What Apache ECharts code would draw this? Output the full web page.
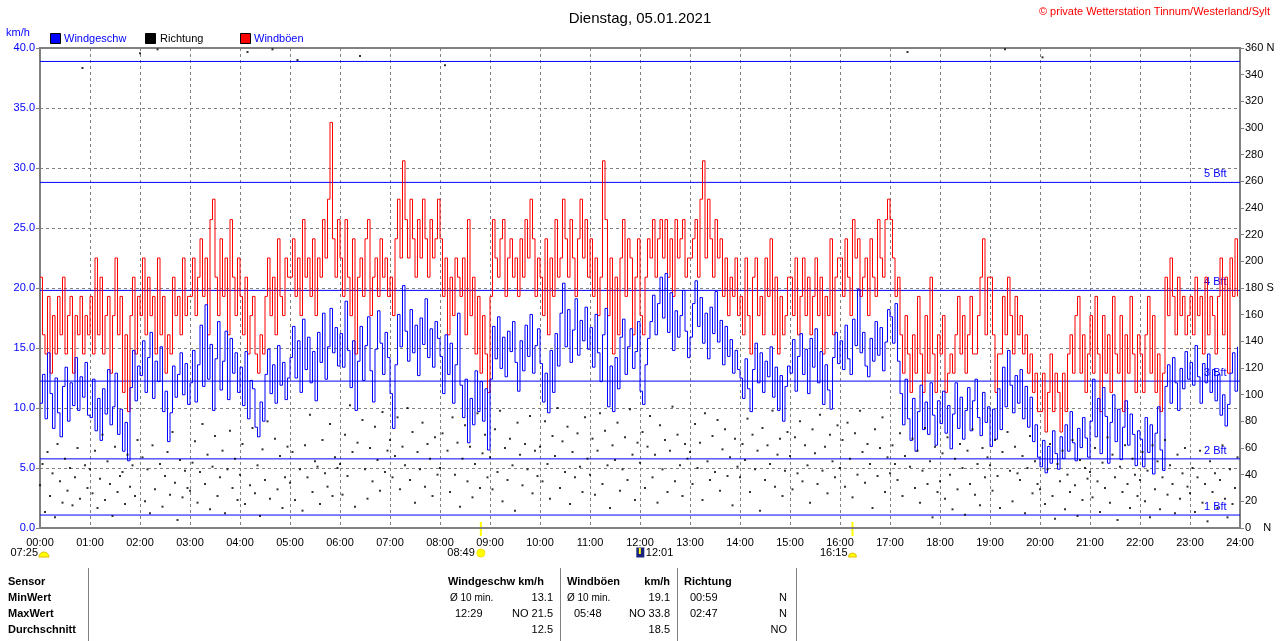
<!DOCTYPE html>
<html>
<head>
<meta charset="utf-8">
<script src="https://cdn.jsdelivr.net/npm/echarts@6/dist/echarts.min.js"></script>
<style>
  html, body { margin: 0; padding: 0; background: #fff; }
  #chart { width: 1280px; height: 641px; }
</style>
</head>
<body>
<div id="chart"></div>
<script>
// one sample every 3 minutes, one line per hour (00:00 ... 23:00)
var STEP_MIN = 3;

// Windgeschw, km/h
var windSpeed = [
  10.4, 12.8, 9.1, 14.6, 11.2, 8.3, 12.5, 9.6, 7.6, 11.8, 13.4, 8.9, 12.1, 10.2, 14.2, 9.8, 12.6, 10.9, 13.8, 9.4,
  9.2, 12.4, 8.1, 10.8, 7.3, 11.6, 9.5, 13.2, 8.6, 10.1, 12.9, 7.8, 9.9, 6.4, 8.8, 5.6, 11.7, 14.8, 10.6, 13.5,
  12.7, 15.6, 11.3, 14.2, 16.3, 10.8, 13.9, 12.2, 15.1, 9.7, 11.4, 7.2, 9.6, 13.5, 10.9, 12.8, 14.6, 11.1, 13.7, 10.3,
  12.1, 14.8, 10.5, 13.6, 16.9, 11.8, 18.6, 12.4, 15.3, 9.8, 14.1, 17.2, 11.5, 13.9, 16.4, 10.7, 15.8, 12.9, 14.6, 11.3,
  13.4, 10.2, 14.7, 9.1, 12.3, 11.6, 8.4, 7.6, 10.5, 8.9, 12.8, 14.9, 11.2, 13.6, 10.4, 15.2, 11.9, 13.8, 10.7, 12.5,
  14.2, 16.8, 12.5, 15.6, 11.3, 17.4, 13.2, 15.9, 12.1, 14.7, 10.6, 16.3, 13.8, 17.9, 12.4, 15.1, 18.3, 14.6, 16.7, 13.5,
  16.2, 13.4, 18.9, 14.8, 11.7, 15.6, 9.8, 13.9, 16.8, 12.3, 15.2, 17.6, 13.1, 10.5, 14.9, 18.1, 15.4, 12.8, 16.3, 14.2,
  11.2, 8.3, 13.6, 17.8, 15.1, 20.2, 16.4, 13.9, 18.2, 14.6, 16.9, 12.7, 17.5, 15.3, 19.1, 14.2, 16.6, 13.4, 17.2, 15.8,
  14.3, 11.2, 16.1, 12.8, 15.4, 10.4, 13.6, 17.9, 11.9, 9.2, 12.4, 7.1, 10.8, 8.6, 13.1, 9.7, 12.2, 8.9, 11.6, 6.5,
  12.4, 16.8, 14.1, 17.6, 13.3, 15.9, 12.6, 16.4, 14.7, 17.2, 13.8, 11.4, 15.6, 13.1, 16.9, 14.3, 17.8, 12.9, 15.2, 16.6,
  13.7, 10.5, 12.9, 9.6, 14.8, 11.3, 16.2, 13.5, 17.9, 20.4, 15.1, 18.2, 13.8, 16.5, 19.1, 14.4, 17.3, 15.6, 18.4, 14.9,
  16.7, 13.4, 17.8, 14.6, 12.2, 16.1, 18.3, 10.1, 13.5, 9.7, 14.2, 11.6, 15.9, 17.4, 12.8, 15.1, 16.6, 13.3, 14.7, 17.2,
  11.4, 10.3, 13.6, 15.8, 17.2, 19.4, 16.1, 18.7, 20.9, 17.5, 21.2, 16.3, 19.6, 14.8, 18.1, 15.9, 17.7, 19.8, 16.4, 14.2,
  15.9, 18.7, 20.6, 16.8, 19.2, 15.4, 17.9, 14.1, 18.4, 16.2, 19.7, 15.5, 17.3, 13.6, 16.8, 14.3, 15.7, 12.9, 14.8, 13.2,
  12.5, 10.8, 14.1, 11.6, 9.7, 13.2, 15.4, 12.1, 14.6, 11.3, 13.9, 12.6, 15.1, 10.9, 13.4, 9.8, 12.7, 8.9, 11.8, 13.5,
  12.9, 15.7, 11.4, 14.3, 16.2, 12.8, 14.9, 11.2, 15.8, 13.4, 16.6, 12.1, 14.7, 10.3, 13.6, 11.5, 9.9, 14.2, 16.3, 13.7,
  15.6, 13.2, 16.9, 14.1, 12.8, 17.4, 15.2, 19.9, 14.6, 16.3, 13.5, 12.6, 15.8, 13.9, 17.2, 14.4, 16.7, 13.1, 15.5, 18.2,
  17.6, 15.4, 18.7, 13.9, 11.2, 8.6, 12.4, 9.1, 7.3, 10.8, 6.4, 9.7, 11.9, 8.2, 10.5, 7.8, 12.1, 9.4, 6.9, 10.6,
  8.7, 11.4, 7.9, 10.2, 6.6, 9.5, 12.1, 8.3, 10.9, 7.4, 9.8, 11.7, 8.1, 10.6, 12.4, 9.2, 7.7, 11.3, 8.8, 10.1,
  6.8, 9.9, 7.4, 11.6, 8.2, 13.4, 10.1, 14.8, 11.9, 9.6, 12.7, 10.4, 13.2, 9.1, 11.8, 8.4, 10.9, 7.2, 8.6, 5.9,
  5.1, 7.3, 4.6, 6.8, 5.4, 8.1, 6.2, 4.9, 7.6, 5.8, 8.6, 6.4, 9.7, 7.1, 5.6, 8.3, 6.7, 9.2, 7.5, 5.9,
  8.9, 12.4, 7.6, 10.8, 6.2, 11.7, 9.3, 5.4, 8.8, 11.1, 7.2, 9.9, 5.7, 8.4, 10.6, 6.9, 9.5, 7.8, 5.2, 8.1,
  7.4, 5.1, 9.2, 6.3, 8.6, 4.5, 7.9, 10.1, 6.5, 4.8, 11.8, 13.6, 10.4, 14.2, 12.1, 9.8, 13.3, 11.6, 14.7, 12.4,
  13.8, 11.9, 15.2, 12.6, 10.4, 13.7, 12.1, 14.5, 11.3, 13.2, 10.6, 12.8, 9.4, 11.1, 8.5, 10.3, 12.9, 14.6, 11.4, 15.1
];

// Windböen, km/h
var windGust = [
  20.9, 16.1, 14.5, 19.3, 12.9, 17.7, 14.5, 19.3, 16.1, 20.9, 14.5, 17.7, 19.3, 12.9, 17.7, 16.1, 19.3, 14.5, 17.7, 16.1,
  19.3, 14.5, 22.5, 16.1, 20.9, 14.5, 17.7, 19.3, 12.9, 17.7, 22.5, 16.1, 19.3, 11.3, 16.1, 9.7, 17.7, 20.9, 14.5, 19.3,
  17.7, 22.5, 16.1, 20.9, 17.7, 19.3, 14.5, 22.5, 16.1, 19.3, 12.9, 16.1, 14.5, 20.9, 17.7, 19.3, 16.1, 22.5, 17.7, 19.3,
  19.3, 22.5, 17.7, 20.9, 24.1, 19.3, 22.5, 16.1, 25.7, 27.4, 20.9, 17.7, 24.1, 19.3, 22.5, 16.1, 25.7, 20.9, 17.7, 22.5,
  19.3, 16.1, 20.9, 14.5, 17.7, 19.3, 14.5, 12.9, 16.1, 14.5, 19.3, 22.5, 17.7, 20.9, 16.1, 24.1, 19.3, 17.7, 22.5, 20.9,
  20.9, 24.1, 19.3, 22.5, 17.7, 25.7, 20.9, 22.5, 19.3, 24.1, 17.7, 22.5, 20.9, 25.7, 22.5, 27.4, 33.8, 24.1, 20.9, 25.7,
  22.5, 19.3, 25.7, 20.9, 17.7, 24.1, 14.5, 20.9, 22.5, 19.3, 24.1, 25.7, 17.7, 20.9, 22.5, 19.3, 24.1, 20.9, 22.5, 19.3,
  20.9, 17.7, 24.1, 27.4, 22.5, 30.6, 25.7, 22.5, 27.4, 24.1, 20.9, 25.7, 22.5, 27.4, 24.1, 20.9, 25.7, 22.5, 24.1, 27.4,
  24.1, 19.3, 22.5, 16.1, 20.9, 17.7, 22.5, 20.9, 19.3, 22.5, 16.1, 25.7, 17.7, 20.9, 14.5, 19.3, 12.9, 17.7, 14.5, 11.3,
  19.3, 25.7, 22.5, 20.9, 24.1, 25.7, 19.3, 22.5, 24.1, 20.9, 22.5, 19.3, 24.1, 20.9, 25.7, 22.5, 27.4, 24.1, 19.3, 22.5,
  20.9, 17.7, 24.1, 16.1, 22.5, 19.3, 25.7, 20.9, 22.5, 27.4, 24.1, 20.9, 25.7, 22.5, 19.3, 24.1, 27.4, 22.5, 25.7, 20.9,
  24.1, 19.3, 22.5, 17.7, 20.9, 30.6, 25.7, 17.7, 22.5, 14.5, 20.9, 16.1, 22.5, 25.7, 19.3, 24.1, 22.5, 16.1, 20.9, 24.1,
  17.7, 16.1, 20.9, 24.1, 22.5, 25.7, 20.9, 24.1, 25.7, 22.5, 25.7, 20.9, 24.1, 19.3, 25.7, 22.5, 24.1, 25.7, 20.9, 22.5,
  22.5, 24.1, 25.7, 20.9, 27.4, 30.6, 22.5, 27.4, 24.1, 20.9, 25.7, 22.5, 24.1, 19.3, 22.5, 17.7, 20.9, 19.3, 22.5, 17.7,
  19.3, 16.1, 22.5, 17.7, 14.5, 20.9, 22.5, 17.7, 19.3, 16.1, 22.5, 19.3, 24.1, 16.1, 20.9, 14.5, 19.3, 16.1, 17.7, 20.9,
  20.9, 17.7, 22.5, 16.1, 19.3, 22.5, 17.7, 20.9, 16.1, 19.3, 22.5, 17.7, 20.9, 14.5, 19.3, 17.7, 24.1, 16.1, 20.9, 22.5,
  22.5, 19.3, 24.1, 20.9, 17.7, 25.7, 22.5, 24.1, 19.3, 20.9, 22.5, 17.7, 24.1, 20.9, 19.3, 25.7, 22.5, 20.9, 25.7, 27.4,
  25.7, 22.5, 19.3, 20.9, 16.1, 12.9, 17.7, 14.5, 11.3, 16.1, 12.9, 19.3, 14.5, 11.3, 17.7, 12.9, 20.9, 14.5, 11.3, 16.1,
  14.5, 17.7, 11.3, 12.9, 14.5, 12.9, 16.1, 19.3, 14.5, 17.7, 12.9, 16.1, 19.3, 14.5, 14.5, 17.7, 20.9, 24.1, 16.1, 20.9,
  20.9, 16.1, 11.3, 14.5, 14.5, 19.3, 16.1, 20.9, 17.7, 14.5, 19.3, 16.1, 17.7, 14.5, 16.1, 12.9, 14.5, 11.3, 12.9, 9.7,
  9.7, 12.9, 8.0, 11.3, 14.5, 9.7, 12.9, 11.3, 8.0, 12.9, 9.7, 14.5, 16.1, 12.9, 17.7, 19.3, 12.9, 16.1, 11.3, 14.5,
  17.7, 12.9, 19.3, 14.5, 9.7, 17.7, 12.9, 16.1, 11.3, 19.3, 14.5, 12.9, 17.7, 9.7, 16.1, 12.9, 19.3, 14.5, 11.3, 16.1,
  14.5, 11.3, 16.1, 19.3, 12.9, 17.7, 11.3, 14.5, 9.7, 12.9, 20.9, 17.7, 22.5, 19.3, 16.1, 20.9, 17.7, 19.3, 16.1, 17.7,
  19.3, 16.1, 20.9, 17.7, 19.3, 14.5, 20.9, 16.1, 19.3, 17.7, 14.5, 19.3, 22.5, 16.1, 20.9, 12.9, 22.5, 19.3, 24.1, 19.3
];

// Richtung, degrees (right axis)
var windDir = [
  32, 48, 12, 57, 24, 41, 8, 63, 35, 19, 52, 28, 45, 17, 38, 60, 22, 345, 47, 30,
  44, 26, 58, 15, 37, 70, 21, 50, 33, 9, 61, 27, 39, 42, 18, 55, 31, 47, 24, 66,
  356, 53, 20, 44, 11, 62, 29, 359, 48, 16, 39, 57, 25, 72, 34, 6, 51, 23, 43, 30,
  28, 49, 65, 19, 42, 78, 33, 55, 14, 46, 69, 24, 38, 58, 11, 44, 73, 30, 52, 21,
  40, 63, 18, 357, 32, 75, 26, 47, 9, 59, 36, 80, 22, 359, 67, 29, 54, 15, 38, 61,
  34, 57, 21, 351, 44, 13, 62, 38, 85, 27, 50, 46, 18, 66, 41, 31, 78, 24, 53, 45,
  48, 25, 70, 39, 92, 57, 16, 64, 354, 81, 44, 22, 60, 35, 76, 51, 28, 87, 42, 58,
  66, 38, 54, 83, 29, 61, 47, 90, 36, 72, 19, 57, 44, 79, 31, 63, 52, 24, 68, 40,
  45, 71, 347, 58, 27, 83, 40, 64, 16, 52, 77, 35, 61, 23, 48, 86, 30, 56, 70, 38,
  53, 29, 74, 42, 88, 20, 60, 36, 67, 47, 13, 79, 55, 32, 63, 44, 84, 26, 58, 39,
  61, 35, 80, 48, 22, 69, 54, 90, 30, 65, 42, 76, 18, 57, 38, 71, 46, 27, 83, 52,
  40, 67, 25, 58, 86, 33, 73, 47, 15, 62, 51, 79, 28, 44, 68, 36, 89, 55, 21, 64,
  49, 72, 30, 61, 84, 38, 55, 19, 77, 44, 66, 27, 58, 91, 35, 70, 47, 24, 63, 52,
  57, 33, 78, 45, 64, 21, 86, 50, 36, 69, 42, 81, 28, 59, 74, 39, 53, 17, 67, 46,
  38, 63, 51, 82, 27, 70, 44, 58, 13, 75, 36, 62, 48, 88, 31, 55, 67, 24, 43, 72,
  54, 29, 68, 41, 80, 35, 62, 47, 19, 74, 56, 33, 85, 43, 61, 26, 70, 50, 38, 77,
  45, 66, 31, 79, 52, 23, 71, 40, 88, 57, 34, 63, 48, 15, 74, 39, 60, 83, 27, 53,
  41, 62, 48, 36, 71, 24, 54, 357, 46, 67, 30, 58, 19, 43, 75, 33, 50, 8, 61, 27,
  35, 56, 22, 68, 40, 14, 52, 29, 63, 45, 10, 58, 33, 74, 25, 48, 17, 60, 38, 53,
  47, 28, 66, 39, 15, 57, 359, 72, 43, 20, 61, 41, 36, 54, 11, 45, 69, 26, 50, 33,
  29, 353, 18, 44, 63, 24, 7, 48, 35, 58, 14, 40, 27, 66, 32, 9, 51, 21, 45, 37,
  42, 23, 60, 35, 12, 49, 30, 68, 19, 55, 38, 6, 46, 27, 62, 33, 15, 52, 40, 24,
  36, 57, 20, 43, 8, 62, 29, 50, 14, 38, 66, 25, 47, 33, 11, 55, 22, 41, 60, 31,
  26, 45, 12, 38, 58, 19, 33, 5, 50, 27, 41, 15, 36, 62, 22, 8, 44, 18, 30, 53
];

// Beaufort thresholds in km/h
var bftLimits = [1.08, 5.76, 12.24, 19.8, 28.8, 38.88];
var bftLabels = ['1 Bft', '2 Bft', '3 Bft', '4 Bft', '5 Bft', ''];

// sun / moon events, minutes after midnight
var sunrise = 8 * 60 + 49, sunset = 16 * 60 + 15, moonEvent = 12 * 60 + 1;

// summary table below the chart
var tableRows = ['Sensor', 'MinWert', 'MaxWert', 'Durchschnitt'];
var speedStats = { min: '13.1', maxTime: '12:29', max: 'NO 21.5', avg: '12.5' };
var gustStats = { min: '19.1', maxTime: '05:48', max: 'NO 33.8', avg: '18.5' };
var dirStats = { minTime: '00:59', min: 'N', maxTime: '02:47', max: 'N', avg: 'NO' };

function pairs(arr) {
  return arr.map(function (v, i) { return [i * STEP_MIN, v]; });
}
function pad(n) { return (n < 10 ? '0' : '') + n; }

var FONT = "'Liberation Sans', Arial, sans-serif";
var BLUE = '#0000ff';
var chart = echarts.init(document.getElementById('chart'));

// Beaufort limits as flat line series across the whole day
var bftSeries = bftLimits.map(function (v, i) {
  return {
    name: 'Bft' + (i + 1),
    type: 'line', z: 1, silent: true, showSymbol: false,
    color: BLUE,
    lineStyle: { color: BLUE, width: 1 },
    endLabel: {
      show: bftLabels[i] !== '', formatter: bftLabels[i],
      color: BLUE, fontSize: 11, offset: [-44, -8]
    },
    data: [[0, v], [1440, v]]
  };
});

chart.setOption({
  animation: false,
  backgroundColor: '#ffffff',
  textStyle: { fontFamily: FONT },
  title: {
    text: 'Dienstag, 05.01.2021',
    left: 'center', top: 6,
    textStyle: { fontSize: 15, fontWeight: 'normal', color: '#000', fontFamily: FONT }
  },
  grid: {
    left: 40, right: 40, top: 48, bottom: 113,
    show: true, borderColor: '#808080', borderWidth: 2
  },
  xAxis: {
    type: 'value', min: 0, max: 1440, interval: 60,
    axisLine: { show: true, lineStyle: { color: '#808080', width: 2 } },
    axisTick: { show: false },
    axisLabel: {
      color: '#000', fontSize: 11, margin: 9,
      formatter: function (v) { return pad(v / 60) + ':00'; }
    },
    splitLine: { show: true, lineStyle: { color: '#808080', type: [3, 3], width: 1 } }
  },
  yAxis: [{
    type: 'value', min: 0, max: 40, interval: 5,
    axisLine: { show: true, lineStyle: { color: '#808080', width: 2 } },
    axisTick: { show: true, length: 4, lineStyle: { color: '#808080' } },
    axisLabel: {
      color: BLUE, fontSize: 11, margin: 5,
      formatter: function (v) { return v.toFixed(1); }
    },
    splitLine: { show: true, lineStyle: { color: '#808080', type: [3, 3], width: 1 } }
  }, {
    type: 'value', min: 0, max: 360, interval: 20, position: 'right',
    axisLine: { show: true, lineStyle: { color: '#808080', width: 2 } },
    axisTick: { show: true, length: 4, lineStyle: { color: '#808080' } },
    axisLabel: {
      color: '#000', fontSize: 11, margin: 5,
      formatter: function (v) {
        if (v === 0) return '0    N';
        if (v === 180) return '180 S';
        if (v === 360) return '360 N';
        return String(v);
      }
    },
    splitLine: { show: false }
  }],
  series: bftSeries.concat([{
    name: 'Windböen',
    type: 'line', step: 'end', showSymbol: false, z: 2,
    lineStyle: { color: '#ff0000', width: 1 }, itemStyle: { color: '#ff0000' },
    data: pairs(windGust)
  }, {
    name: 'Windgeschw',
    type: 'line', step: 'end', showSymbol: false, z: 3,
    lineStyle: { color: BLUE, width: 1 }, itemStyle: { color: BLUE },
    data: pairs(windSpeed)
  }, {
    name: 'Richtung',
    type: 'scatter', yAxisIndex: 1, z: 4,
    symbol: 'rect', symbolSize: 2,
    itemStyle: { color: '#000000' },
    data: pairs(windDir)
  }])
});

// decorations: legend, header texts, sun/moon markers, summary table
function px(minute) { return chart.convertToPixel({ xAxisIndex: 0 }, minute); }
var axisY = 528;
var g = [];
function txt(x, y, s, opt) {
  opt = opt || {};
  g.push({
    type: 'text', x: x, y: y, silent: true,
    style: {
      text: s, fill: opt.fill || '#000', font: (opt.bold ? 'bold ' : '') + (opt.size || 11) + 'px ' + FONT,
      textAlign: opt.align || 'left', textVerticalAlign: 'middle'
    }
  });
}
function box(x, y, w, h, fill, stroke) {
  g.push({ type: 'rect', silent: true, shape: { x: x, y: y, width: w, height: h },
    style: { fill: fill, stroke: stroke || null, lineWidth: 1 } });
}
function vline(x, y1, y2, color, w) {
  g.push({ type: 'line', silent: true, shape: { x1: x, y1: y1, x2: x, y2: y2 },
    style: { stroke: color, lineWidth: w || 1 } });
}

txt(6, 33, 'km/h', { fill: BLUE });
box(50.5, 33.5, 10, 10, BLUE, '#000');
txt(64, 38.5, 'Windgeschw', { fill: BLUE });
box(145.5, 33.5, 10, 10, '#000000', '#000');
txt(160, 38.5, 'Richtung');
box(240.5, 33.5, 10, 10, '#ff0000', '#000');
txt(254, 38.5, 'Windböen', { fill: BLUE });
txt(1270, 12, '© private Wetterstation Tinnum/Westerland/Sylt', { fill: '#ff0000', align: 'right' });

// day start marker
txt(38, 553, '07:25', { align: 'right' });
g.push({ type: 'sector', silent: true, shape: { cx: 44, cy: 557, r: 5, startAngle: Math.PI, endAngle: Math.PI * 2 },
  style: { fill: '#ffff00', stroke: '#e0c000' } });
// sunrise
var xr = px(sunrise);
vline(xr, axisY - 6, axisY + 8, '#ffff00', 2);
txt(xr - 6, 553, pad(Math.floor(sunrise / 60)) + ':' + pad(sunrise % 60), { align: 'right' });
g.push({ type: 'circle', silent: true, shape: { cx: xr, cy: 553, r: 4 }, style: { fill: '#ffff00', stroke: '#ffe000' } });
// moon
var xm = px(moonEvent);
box(xm - 4.5, 547.5, 8, 10, '#1a237e');
vline(xm - 1, 548, 554, '#ffff00', 2);
txt(xm + 5, 553, pad(Math.floor(moonEvent / 60)) + ':' + pad(moonEvent % 60));
// sunset
var xs = px(sunset);
vline(xs, axisY - 6, axisY + 8, '#ffff00', 2);
txt(xs - 5, 553, pad(Math.floor(sunset / 60)) + ':' + pad(sunset % 60), { align: 'right' });
g.push({ type: 'sector', silent: true, shape: { cx: xs, cy: 557, r: 4, startAngle: Math.PI, endAngle: Math.PI * 2 },
  style: { fill: '#ffff00', stroke: '#e0c000' } });

// summary table
var rowY = [582, 598, 614, 630];
[88, 560, 677, 796].forEach(function (x) { vline(x + 0.5, 568, 641, '#808080', 1); });
tableRows.forEach(function (r, i) { txt(8, rowY[i], r, { bold: true }); });
txt(448, rowY[0], 'Windgeschw km/h', { bold: true });
txt(567, rowY[0], 'Windböen', { bold: true });
txt(670, rowY[0], 'km/h', { bold: true, align: 'right' });
txt(684, rowY[0], 'Richtung', { bold: true });

txt(450, rowY[1], 'Ø 10 min.', { size: 10 });
txt(553, rowY[1], speedStats.min, { align: 'right' });
txt(567, rowY[1], 'Ø 10 min.', { size: 10 });
txt(670, rowY[1], gustStats.min, { align: 'right' });
txt(690, rowY[1], dirStats.minTime);
txt(787, rowY[1], dirStats.min, { align: 'right' });

txt(455, rowY[2], speedStats.maxTime);
txt(553, rowY[2], speedStats.max, { align: 'right' });
txt(574, rowY[2], gustStats.maxTime);
txt(670, rowY[2], gustStats.max, { align: 'right' });
txt(690, rowY[2], dirStats.maxTime);
txt(787, rowY[2], dirStats.max, { align: 'right' });

txt(553, rowY[3], speedStats.avg, { align: 'right' });
txt(670, rowY[3], gustStats.avg, { align: 'right' });
txt(787, rowY[3], dirStats.avg, { align: 'right' });

chart.setOption({ graphic: { elements: g } });
</script>
</body>
</html>
